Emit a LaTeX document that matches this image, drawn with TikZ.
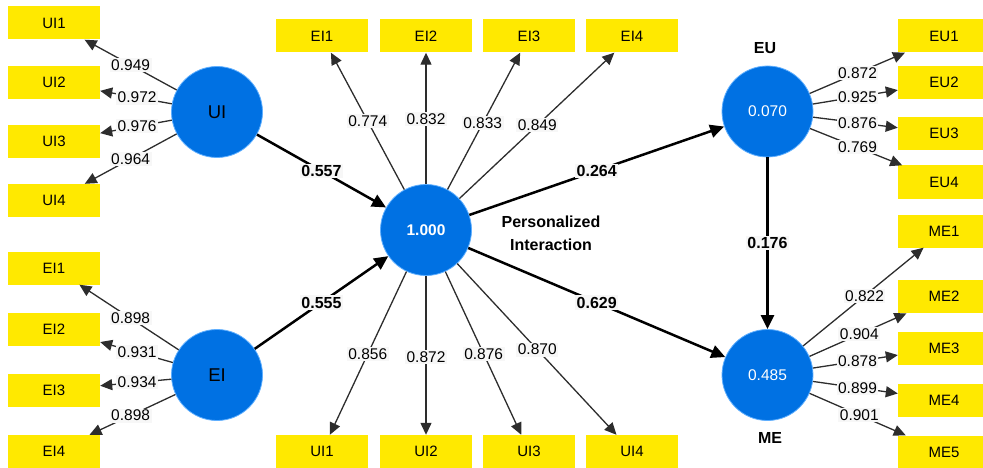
\documentclass[tikz,border=0pt]{standalone}
\usepackage{fontspec}
\setmainfont{Liberation Sans}
\usetikzlibrary{arrows.meta,calc}

\definecolor{lvblue}{RGB}{0,113,227}
\definecolor{lvrim}{RGB}{95,175,255}
\definecolor{mvyellow}{RGB}{255,233,0}
\definecolor{loadgray}{RGB}{45,45,45}
\definecolor{tagbg}{RGB}{247,247,247}

\begin{document}
\begin{tikzpicture}[x=1pt,y=-1pt,
  latent/.style={circle,fill=lvblue,draw=lvrim,line width=0.8pt,minimum size=91pt,
    inner sep=0pt,font=\fontsize{15.5}{18}\selectfont},
  exo/.style={latent,font=\fontsize{18.5}{22}\selectfont},
  indicator/.style={rectangle,fill=mvyellow,minimum width=92pt,minimum height=33pt,
    inner sep=0pt,font=\fontsize{15}{18}\selectfont},
  loading/.style={draw=loadgray,line width=1.3pt,-{Triangle[length=12pt,width=11pt]}},
  pathcoef/.style={draw=black,line width=2.5pt,-{Triangle[length=14pt,width=13pt]}},
  wt/.style={fill=tagbg,inner sep=1.5pt,font=\fontsize{15.5}{18}\selectfont},
  pc/.style={fill=tagbg,inner sep=1.5pt,font=\bfseries\fontsize{16}{19}\selectfont},
  caption/.style={font=\bfseries\fontsize{16}{23}\selectfont,align=center}
]
\useasboundingbox (0,0) rectangle (983,468);
\clip (0,0) rectangle (983,468);

% latent variables
\node[exo] (UI) at (217,112) {UI};
\node[exo] (EI) at (217,375) {EI};
\node[latent,text=white,font=\bfseries\fontsize{15.5}{18}\selectfont] (PI) at (426,230) {1.000};
\node[latent,text=white] (EU) at (767.5,111.5) {0.070};
\node[latent,text=white] (ME) at (767.5,375) {0.485};

% captions of the latent variables
\node[caption] (capPI) at (551,233.5) {Personalized\\Interaction};
\node[caption] (capEU) at (765,48) {EU};
\node[caption] (capME) at (770,438) {ME};

% indicators, left column
\node[indicator] (lUI1) at (54,23) {UI1};
\node[indicator] (lUI2) at (54,82.5) {UI2};
\node[indicator] (lUI3) at (54,141.5) {UI3};
\node[indicator] (lUI4) at (54,200.5) {UI4};
\node[indicator] (lEI1) at (54,268) {EI1};
\node[indicator] (lEI2) at (54,329) {EI2};
\node[indicator] (lEI3) at (54,390) {EI3};
\node[indicator] (lEI4) at (54,451.5) {EI4};

% indicators, top and bottom rows
\node[indicator] (tEI1) at (322,36) {EI1};
\node[indicator] (tEI2) at (426,36) {EI2};
\node[indicator] (tEI3) at (529,36) {EI3};
\node[indicator] (tEI4) at (632,36) {EI4};
\node[indicator] (bUI1) at (322,451.5) {UI1};
\node[indicator] (bUI2) at (426,451.5) {UI2};
\node[indicator] (bUI3) at (529,451.5) {UI3};
\node[indicator] (bUI4) at (632,451.5) {UI4};

% indicators, right column
\node[indicator] (rEU1) at (944,36) {EU1};
\node[indicator] (rEU2) at (944,82.5) {EU2};
\node[indicator] (rEU3) at (944,133.5) {EU3};
\node[indicator] (rEU4) at (944,182) {EU4};
\node[indicator] (rME1) at (944,231) {ME1};
\node[indicator] (rME2) at (944,296.7) {ME2};
\node[indicator] (rME3) at (944,348) {ME3};
\node[indicator] (rME4) at (944,400) {ME4};
\node[indicator] (rME5) at (944,452) {ME5};

% outer loadings
\foreach \a/\b in {UI/lUI1,UI/lUI2,UI/lUI3,UI/lUI4,
                   EI/lEI1,EI/lEI2,EI/lEI3,EI/lEI4,
                   PI/tEI1,PI/tEI2,PI/tEI3,PI/tEI4,
                   PI/bUI1,PI/bUI2,PI/bUI3,PI/bUI4,
                   EU/rEU1,EU/rEU2,EU/rEU3,EU/rEU4,
                   ME/rME1,ME/rME2,ME/rME3,ME/rME4,ME/rME5}
  \draw[loading] (\a) -- (\b);

% structural paths
\draw[pathcoef] (UI) -- (PI);
\draw[pathcoef] (EI) -- (PI);
\draw[pathcoef] (PI) -- (EU);
\draw[pathcoef] (PI) -- (ME);
\draw[pathcoef] (EU) -- (ME);

% loading values
\node[wt] (w1) at ($(UI)!0.53!(lUI1)$) {0.949};
\node[wt] (w2) at ($(UI)!0.49!(lUI2)$) {0.972};
\node[wt] (w3) at ($(UI)!0.49!(lUI3)$) {0.976};
\node[wt] (w4) at ($(UI)!0.53!(lUI4)$) {0.964};
\node[wt] (w5) at ($(EI)!0.53!(lEI1)$) {0.898};
\node[wt] (w6) at ($(EI)!0.49!(lEI2)$) {0.931};
\node[wt] (w7) at ($(EI)!0.49!(lEI3)$) {0.934};
\node[wt] (w8) at ($(EI)!0.53!(lEI4)$) {0.898};
\node[wt] (w9) at ($(PI)!0.56!(tEI1)$) {0.774};
\node[wt] (w10) at ($(PI)!0.57!(tEI2)$) {0.832};
\node[wt] (w11) at ($(PI)!0.55!(tEI3)$) {0.833};
\node[wt] (w12) at ($(PI)!0.54!(tEI4)$) {0.849};
\node[wt] (w13) at ($(PI)!0.56!(bUI1)$) {0.856};
\node[wt] (w14) at ($(PI)!0.575!(bUI2)$) {0.872};
\node[wt] (w15) at ($(PI)!0.56!(bUI3)$) {0.876};
\node[wt] (w16) at ($(PI)!0.54!(bUI4)$) {0.870};
\node[wt] (w17) at ($(EU)!0.51!(rEU1)$) {0.872};
\node[wt] (w18) at ($(EU)!0.51!(rEU2)$) {0.925};
\node[wt] (w19) at ($(EU)!0.51!(rEU3)$) {0.876};
\node[wt] (w20) at ($(EU)!0.51!(rEU4)$) {0.769};
\node[wt] (w21) at ($(ME)!0.55!(rME1)$) {0.822};
\node[wt] (w22) at ($(ME)!0.52!(rME2)$) {0.904};
\node[wt] (w23) at ($(ME)!0.51!(rME3)$) {0.878};
\node[wt] (w24) at ($(ME)!0.51!(rME4)$) {0.899};
\node[wt] (w25) at ($(ME)!0.52!(rME5)$) {0.901};

% path coefficients
\node[pc] (p1) at ($(UI)!0.5!(PI)$) {0.557};
\node[pc] (p2) at ($(EI)!0.5!(PI)$) {0.555};
\node[pc] (p3) at ($(PI)!0.5!(EU)$) {0.264};
\node[pc] (p4) at ($(PI)!0.5!(ME)$) {0.629};
\node[pc] (p5) at ($(EU)!0.5!(ME)$) {0.176};
\end{tikzpicture}
\end{document}
